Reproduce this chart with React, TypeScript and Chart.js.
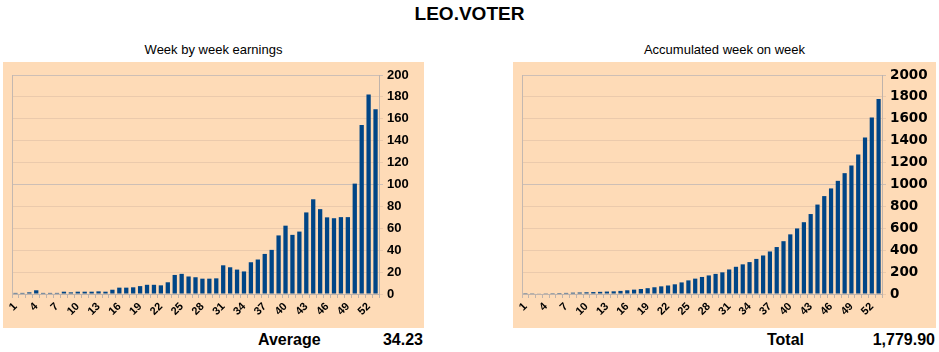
import React, { useEffect, useRef } from "react";
import { Chart, registerables } from "chart.js";

Chart.register(...registerables);

const weeks: string[] = [
  "1","2","3","4","5","6","7","8","9","10","11","12","13","14","15","16","17","18",
  "19","20","21","22","23","24","25","26","27","28","29","30","31","32","33","34","35","36",
  "37","38","39","40","41","42","43","44","45","46","47","48","49","50","51","52","53",
];

const weeklyEarnings: number[] = [
  1.0, 1.0, 1.5, 3.4, 1.0, 1.0, 1.0, 2.1, 1.5, 2.1, 2.1, 2.1, 2.4, 2.1, 3.9, 5.8, 5.8, 6.1,
  7.2, 8.4, 8.4, 7.9, 10.7, 17.4, 18.4, 16.0, 15.3, 14.0, 14.0, 14.3, 26.2, 24.4, 22.3, 20.6, 29.0, 31.5,
  36.6, 40.3, 53.5, 62.4, 54.0, 57.0, 74.5, 86.5, 77.5, 70.0, 69.2, 70.2, 70.2, 100.8, 154.3, 182.2, 168.8,
];

const accumulated: number[] = [
  1.0, 2.0, 3.5, 6.9, 7.9, 8.9, 9.9, 12.0, 13.5, 15.6, 17.7, 19.8, 22.2, 24.3, 28.2, 34.0, 39.8, 45.9,
  53.1, 61.5, 69.9, 77.8, 88.5, 105.9, 124.3, 140.3, 155.6, 169.6, 183.6, 197.9, 224.1, 248.5, 270.8, 291.4, 320.4, 351.9,
  388.5, 428.8, 482.3, 544.7, 598.7, 655.7, 730.2, 816.7, 894.2, 964.2, 1033.4, 1103.6, 1173.8, 1274.6, 1428.9, 1611.1, 1779.9,
];

const mainTitle = "LEO.VOTER";
const leftTitle = "Week by week earnings";
const rightTitle = "Accumulated week on week";
const averageLabel = "Average";
const averageValue = "34.23";
const totalLabel = "Total";
const totalValue = "1,779.90";

const FONT = '"Liberation Sans", Arial, sans-serif';
const PEACH = "#FEDBB7";
const BAR = "#004586";

const leftBorderPlugin = {
  id: "leftBorder",
  afterDraw(chart: any) {
    const { ctx, chartArea } = chart;
    ctx.save();
    ctx.strokeStyle = "#c4b8b0";
    ctx.lineWidth = 1;
    ctx.beginPath();
    const x = Math.round(chartArea.left) + 0.5;
    ctx.moveTo(x, chartArea.top);
    ctx.lineTo(x, chartArea.bottom + 4);
    ctx.stroke();
    ctx.restore();
  },
};

function makeConfig(data: number[], max: number, step: number, axisWidth: number, tickFont: any) {
  return {
    type: "bar" as const,
    data: {
      labels: weeks,
      datasets: [
        {
          data,
          backgroundColor: BAR,
          borderWidth: 0,
          barPercentage: 0.62,
          categoryPercentage: 1,
        },
      ],
    },
    options: {
      responsive: false,
      animation: false as const,
      layout: { padding: { top: 13, left: 9, right: 0, bottom: 0 } },
      plugins: { legend: { display: false }, tooltip: { enabled: false }, title: { display: false } },
      scales: {
        x: {
          grid: {
            drawOnChartArea: false,
            drawTicks: true,
            tickLength: 4,
            color: "#bfb3ab",
            offset: true,
          },
          border: { display: true, color: "#bfb3ab" },
          ticks: {
            autoSkip: false,
            minRotation: 45,
            maxRotation: 45,
            padding: 2,
            color: "#000",
            font: { family: FONT, size: 11, weight: "bold" },
            callback: (_v: any, i: number) => (i % 3 === 0 ? weeks[i] : ""),
          },
          afterFit: (scale: any) => {
            scale.height = 34;
          },
        },
        y: {
          position: "right" as const,
          min: 0,
          max,
          grid: {
            drawTicks: true,
            tickLength: 4,
            color: (c: any) =>
              c.tick && c.tick.value > 0 && c.tick.value % (step * 5) === 0 ? "#cdbfb6" : "#ebcaac",
          },
          border: { display: true, color: "#bfb3ab" },
          ticks: {
            stepSize: step,
            padding: 4,
            color: "#000",
            font: tickFont,
            callback: (v: any) => String(v),
          },
          afterFit: (scale: any) => {
            scale.width = axisWidth;
          },
        },
      },
    },
    plugins: [leftBorderPlugin],
  };
}

function BarChart(props: {
  data: number[];
  max: number;
  step: number;
  width: number;
  height: number;
  axisWidth: number;
  tickFont: any;
}) {
  const ref = useRef<HTMLCanvasElement | null>(null);
  useEffect(() => {
    if (!ref.current) return;
    const chart = new Chart(
      ref.current,
      makeConfig(props.data, props.max, props.step, props.axisWidth, props.tickFont) as any
    );
    return () => chart.destroy();
  }, []);
  return (
    <canvas
      ref={ref}
      width={props.width}
      height={props.height}
      style={{ width: props.width, height: props.height, background: PEACH, display: "block" }}
    />
  );
}

const abs = (left: number, top: number, extra: any = {}) => ({
  position: "absolute" as const,
  left,
  top,
  ...extra,
});

export default function App() {
  return (
    <div
      style={{
        position: "fixed",
        left: 0,
        top: 0,
        width: 939,
        height: 352,
        background: "#fff",
        fontFamily: FONT,
        color: "#000",
        overflow: "hidden",
      }}
    >
      <div
        style={abs(0, 3, {
          width: 939,
          textAlign: "center",
          fontSize: 19,
          fontWeight: "bold",
          lineHeight: "22px",
        })}
      >
        {mainTitle}
      </div>
      <div style={abs(3, 42, { width: 421, textAlign: "center", fontSize: 13, lineHeight: "16px" })}>
        {leftTitle}
      </div>
      <div style={abs(513, 42, { width: 423, textAlign: "center", fontSize: 13, lineHeight: "16px" })}>
        {rightTitle}
      </div>
      <div style={abs(3, 62)}>
        <BarChart
          data={weeklyEarnings}
          max={200}
          step={20}
          width={421}
          height={266}
          axisWidth={45}
          tickFont={{ family: FONT, size: 13, weight: "bold" }}
        />
      </div>
      <div style={abs(513, 62)}>
        <BarChart
          data={accumulated}
          max={2000}
          step={200}
          width={423}
          height={266}
          axisWidth={54}
          tickFont={{ family: '"DejaVu Sans", sans-serif', size: 13.5, weight: "bold" }}
        />
      </div>
      <div style={abs(258, 331, { fontSize: 16, fontWeight: "bold", lineHeight: "18px" })}>{averageLabel}</div>
      <div
        style={abs(323, 331, { width: 100, textAlign: "right", fontSize: 16, fontWeight: "bold", lineHeight: "18px" })}
      >
        {averageValue}
      </div>
      <div style={abs(767, 331, { fontSize: 16, fontWeight: "bold", lineHeight: "18px" })}>{totalLabel}</div>
      <div
        style={abs(835, 331, { width: 100, textAlign: "right", fontSize: 16, fontWeight: "bold", lineHeight: "18px" })}
      >
        {totalValue}
      </div>
    </div>
  );
}
